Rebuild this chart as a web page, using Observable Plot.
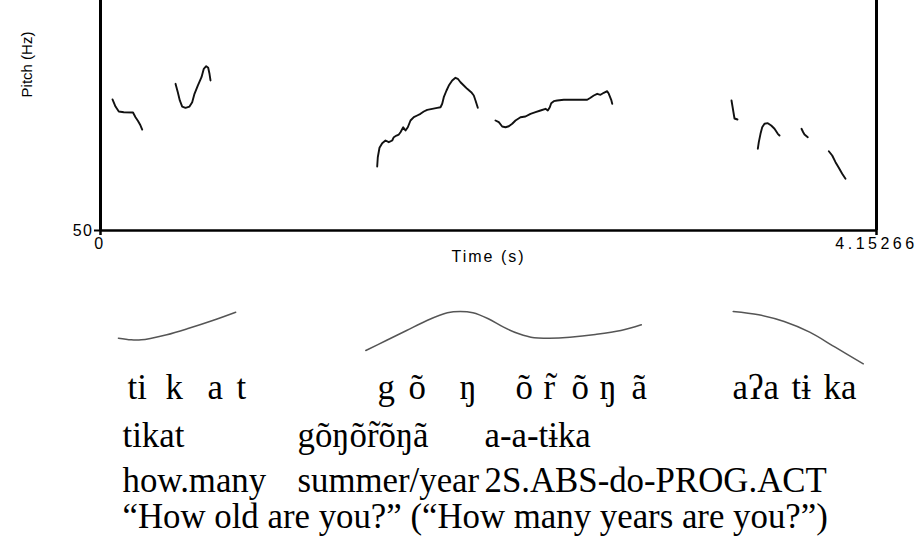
<!DOCTYPE html>
<html><head><meta charset="utf-8">
<script src="https://cdn.jsdelivr.net/npm/d3@7"></script>
<script src="https://cdn.jsdelivr.net/npm/@observablehq/plot@0.6"></script>
<style>
body{margin:0;background:#fff;}
#chart svg{display:block;}
#topPlot g[aria-label="x-axis tick label"] text{letter-spacing:3.5px;}
#topPlot g[aria-label="y-axis tick label"] text{letter-spacing:1.5px;}
</style></head><body><div id="chart"></div>
<script>
// ---- data: pitch track (time s, pitch Hz) ----
const duration = 4.15266;
const pitchFloor = 50;
const pitchCeil = 350;
const pitchSeg1 = [[0.0642,220.9],[0.0803,211.7],[0.0979,205.2],[0.1247,204.3],[0.1739,203.9],[0.1873,197.8],[0.2007,192.8],[0.2114,188.3],[0.2232,181.7]];
const pitchSeg2 = [[0.4014,241.3],[0.4137,230.4],[0.4244,219.6],[0.4372,211.7],[0.4549,210.0],[0.4763,211.7],[0.4907,217.3],[0.5030,228.3],[0.5207,239.1],[0.5405,250.0],[0.5528,260.9],[0.5656,264.3],[0.5763,262.2],[0.5833,254.4],[0.5887,245.7]];
const pitchSeg3 = [[1.4807,133.5],[1.4839,145.6],[1.4930,157.9],[1.5075,163.9],[1.5251,167.4],[1.5428,165.2],[1.5610,167.4],[1.5696,171.7],[1.5840,173.9],[1.5963,175.2],[1.6054,178.2],[1.6199,184.7],[1.6322,180.4],[1.6445,184.7],[1.6589,193.5],[1.6766,197.8],[1.6948,200.0],[1.7124,202.2],[1.7301,205.2],[1.7483,207.4],[1.7751,208.7],[1.8018,210.0],[1.8195,210.8],[1.8286,215.3],[1.8371,223.9],[1.8516,232.6],[1.8639,239.1],[1.8821,245.7],[1.8997,249.2],[1.9121,247.9],[1.9265,243.4],[1.9442,239.1],[1.9623,234.8],[1.9838,230.4],[1.9977,226.1],[2.0068,219.6],[2.0191,210.0]];
const pitchSeg4 = [[2.1138,193.5],[2.1315,191.3],[2.1496,185.7],[2.1673,184.7],[2.1850,186.0],[2.2032,189.2],[2.2208,193.5],[2.2476,197.8],[2.2743,198.7],[2.3011,202.2],[2.3279,204.3],[2.3546,206.5],[2.3814,208.7],[2.3937,206.5],[2.4044,210.8],[2.4119,216.0],[2.4258,218.7],[2.4440,219.6],[2.4793,220.5],[2.5328,220.5],[2.6045,220.5],[2.6222,223.1],[2.6398,226.1],[2.6580,228.3],[2.6757,227.0],[2.6934,229.6],[2.7115,231.7],[2.7201,228.3],[2.7330,220.5],[2.7384,215.3]];
const pitchSeg5 = [[3.3767,219.6],[3.3821,211.7],[3.3874,203.9],[3.3928,196.1],[3.4088,194.8]];
const pitchSeg6 = [[3.5175,156.6],[3.5228,165.2],[3.5319,176.1],[3.5410,184.7],[3.5533,189.2],[3.5710,190.0],[3.5892,187.0],[3.6069,182.7],[3.6245,176.1],[3.6336,173.9]];
const pitchSeg7 = [[3.7513,182.7],[3.7604,178.2],[3.7674,175.2],[3.7850,171.7]];
const pitchSeg8 = [[3.8975,153.4],[3.9156,147.8],[3.9333,139.1],[3.9509,131.8],[3.9691,124.0],[3.9868,117.4]];
const pitchSegments = [pitchSeg1,pitchSeg2,pitchSeg3,pitchSeg4,pitchSeg5,pitchSeg6,pitchSeg7,pitchSeg8];

// ---- data: stylised intonation contours (time s, relative level) ----
const contour1 = [[0.0958,2.56],[0.1638,2.40],[0.2183,2.40],[0.2729,2.56],[0.3548,2.90],[0.4640,3.50],[0.6004,4.33],[0.7235,5.16]];
const contour2 = [[1.4197,1.33],[1.5289,2.33],[1.6380,3.33],[1.7472,4.33],[1.8564,5.10],[1.9249,5.23],[1.9929,5.10],[2.0753,4.50],[2.1571,3.66],[2.2390,3.00],[2.3209,2.60],[2.4028,2.56],[2.5119,2.66],[2.6484,2.93],[2.7849,3.33],[2.8940,3.90]];
const contour3 = [[3.3858,5.23],[3.5223,4.90],[3.6586,4.23],[3.7951,3.16],[3.9316,1.66],[4.0820,0.00]];
const contours = [contour1,contour2,contour3];

// ---- data: interlinear text (word, start time s) ----
const segmentWords = [["ti",0.1445],["k",0.3478],["a",0.5726],["t",0.7278],["g",1.4823],["õ",1.6482],["ŋ",1.9212],["õ",2.2208],["r̃",2.3707],["õ",2.5205],["ŋ",2.6704],["ã",2.8416],["aʔa",3.3821],["tɨ",3.6978],["ka",3.8691]];
const morphWords = [["tikat",0.1177],["gõŋõr̃õŋã",1.0542],["a-a-tɨka",2.0549]];
const glossWords = [["how.many",0.1177],["summer/year",1.0542],["2S.ABS-do-PROG.ACT",2.0549]];
const translationWords = [["“How old are you?” (“How many years are you?”)",0.1177]];

const xTicks = [0, duration];
const yTicks = [pitchFloor];
const xLabel = "Time (s)";
const yLabel = "Pitch (Hz)";

// ---- build tables ----
const pitchData = pitchSegments.flatMap((s,i)=>s.map(([t,hz])=>({seg:i,t,hz})));
const contourData = contours.flatMap((s,i)=>s.map(([t,level])=>({phrase:i,t,level})));
const toRows = arr => arr.map(([w,t])=>({w,t}));

const W = 919;
const topPlot = Plot.plot({
  width: W, height: 270,
  marginLeft: 100, marginRight: 43, marginTop: 0, marginBottom: 40,
  style: {fontFamily: "Liberation Sans, Arial, sans-serif", color: "#000", background: "#fff", overflow: "visible"},
  x: {domain: [0, duration]},
  y: {domain: [pitchFloor, pitchCeil]},
  marks: [
    Plot.line(pitchData, {x: "t", y: "hz", z: "seg", stroke: "#111", strokeWidth: 1.9}),
    Plot.ruleX(xTicks, {y1: pitchFloor, y2: pitchCeil, strokeWidth: 3, stroke: "#000"}),
    Plot.ruleY(yTicks, {x1: 0, x2: duration, strokeWidth: 2.5, stroke: "#000"}),
    Plot.axisX(xTicks, {anchor: "bottom", tickSize: 5, strokeWidth: 2.5, tickPadding: 2, fontSize: 16, tickFormat: d => String(d), label: null}),
    Plot.axisY(yTicks, {anchor: "left", tickSize: 6, strokeWidth: 2, tickPadding: 1, fontSize: 16, label: null}),
    Plot.text([xLabel], {frameAnchor: "bottom", textAnchor: "middle", dy: 31, fontSize: 16, text: d => d}),
    Plot.text([yLabel], {frameAnchor: "top-left", textAnchor: "middle", dx: -79, dy: 64, rotate: -90, fontSize: 15, text: d => d})
  ]
});
topPlot.id = "topPlot";
topPlot.querySelectorAll('text').forEach(t => { if (t.textContent === xLabel) t.style.letterSpacing = "2px"; });

const serif = "Liberation Serif, Times New Roman, serif";
const rowText = (rows, baseline) => Plot.text(toRows(rows), {
  x: "t", text: "w", frameAnchor: "top", dy: baseline, textAnchor: "start", lineAnchor: "bottom",
  fontSize: 34.8, fontFamily: serif, fill: "#000"
});
const bottomPlot = Plot.plot({
  width: W, height: 268,
  marginLeft: 100, marginRight: 43, marginTop: 0, marginBottom: 0,
  style: {background: "#fff", overflow: "visible"},
  x: {domain: [0, duration], axis: null},
  y: {domain: [0, 10], range: [93.3, -6.7], axis: null},
  marks: [
    Plot.line(contourData, {x: "t", y: "level", z: "phrase", curve: "catmull-rom", stroke: "#555", strokeWidth: 1.5}),
    rowText(segmentWords, 128),
    rowText(morphWords, 176),
    rowText(glossWords, 221),
    rowText(translationWords, 257)
  ]
});
const root = document.getElementById("chart");
root.appendChild(topPlot);
root.appendChild(bottomPlot);
</script></body></html>
